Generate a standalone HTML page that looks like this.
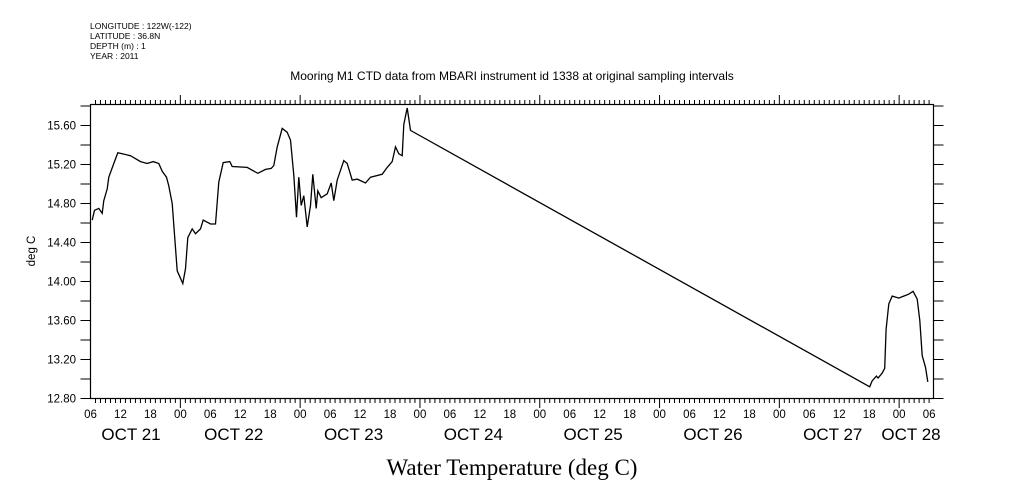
<!DOCTYPE html>
<html><head><meta charset="utf-8"><style>
html,body{margin:0;padding:0;background:#fff;}
svg{display:block;font-family:"Liberation Sans",sans-serif;}
</style></head><body>
<svg id="chart" width="1009" height="504" viewBox="0 0 1009 504">
<g font-size="8.5" fill="#000">
<text x="90" y="29">LONGITUDE : 122W(-122)</text>
<text x="90" y="39">LATITUDE : 36.8N</text>
<text x="90" y="49">DEPTH (m) : 1</text>
<text x="90" y="59">YEAR : 2011</text>
</g>
<text x="512" y="80" font-size="12" text-anchor="middle">Mooring M1 CTD data from MBARI instrument id 1338 at original sampling intervals</text>
<text transform="translate(35,251) rotate(-90)" font-size="11.5" text-anchor="middle">deg C</text>
<text x="512" y="475" font-size="23" text-anchor="middle" font-family="Liberation Serif, serif">Water Temperature (deg C)</text>
<rect x="90.5" y="104.5" width="843" height="294" fill="none" stroke="#000" stroke-width="1.2"/>
<g id="axes"></g>
<path id="line" fill="none" stroke="#000" stroke-width="1.3"/>
</svg>
<script>
const hours=[0.34,0.80,1.66,2.34,2.66,3.35,3.67,4.67,5.47,6.35,8.01,10.02,11.36,12.56,13.68,14.36,15.22,15.69,16.37,17.37,18.49,19.03,19.49,20.37,21.03,22.04,22.58,24.04,25.04,25.70,26.58,27.90,28.39,31.39,33.51,35.06,36.20,36.72,37.40,38.40,39.40,40.06,40.73,41.27,41.73,42.21,42.73,43.41,44.07,44.53,45.21,45.53,46.21,47.42,48.22,48.74,49.42,50.74,51.42,52.42,53.43,55.09,56.09,58.43,59.44,60.44,61.10,61.76,62.44,62.76,63.44,64.10,156.11,156.59,157.45,157.79,158.59,159.11,159.39,159.92,160.60,161.92,162.92,163.92,164.80,165.61,166.13,166.61,167.27,167.73];
const temps=[14.63,14.73,14.75,14.70,14.83,14.95,15.07,15.21,15.32,15.31,15.29,15.23,15.21,15.23,15.21,15.13,15.07,14.98,14.80,14.11,13.98,14.13,14.45,14.54,14.49,14.54,14.63,14.59,14.59,15.02,15.22,15.23,15.18,15.17,15.11,15.15,15.16,15.19,15.38,15.57,15.53,15.45,15.09,14.66,15.07,14.78,14.88,14.56,14.78,15.10,14.75,14.93,14.86,14.90,15.01,14.83,15.04,15.24,15.21,15.04,15.05,15.01,15.07,15.10,15.17,15.23,15.38,15.31,15.29,15.61,15.78,15.55,12.92,12.98,13.03,13.01,13.06,13.11,13.51,13.77,13.85,13.83,13.85,13.87,13.90,13.82,13.60,13.24,13.12,12.97];
const yTicks=[12.8,13.2,13.6,14.0,14.4,14.8,15.2,15.6];
const hourLabels=["06","12","18","00"];
const dayLabels=["OCT 21","OCT 22","OCT 23","OCT 24","OCT 25","OCT 26","OCT 27","OCT 28"];
const X0=90.5,PXH=119.8/24,Y0=398.5,PXV=97.5,VMIN=12.8;
const xs=h=>X0+h*PXH, ys=v=>Y0-(v-VMIN)*PXV;
const ns="http://www.w3.org/2000/svg";
const ax=document.getElementById('axes');
function ln(x1,y1,x2,y2,name){const l=document.createElementNS(ns,'line');l.setAttribute('x1',x1);l.setAttribute('y1',y1);l.setAttribute('x2',x2);l.setAttribute('y2',y2);l.setAttribute('stroke','#000');l.setAttribute('stroke-width','1');


ax.appendChild(l);}
function tx(x,y,s,size,anchor,name){const t=document.createElementNS(ns,'text');t.setAttribute('x',x);t.setAttribute('y',y);t.setAttribute('font-size',size);t.setAttribute('text-anchor',anchor);t.textContent=s;


ax.appendChild(t);}
for(let i=0;i<=15;i++){const v=VMIN+i*0.2;const y=ys(v);if(y<104)continue;ln(X0-10,y,X0,y,'y-tick');ln(933.5,y,943.5,y,'y-tick-right');}
yTicks.forEach(v=>tx(76,ys(v)+4,v.toFixed(2),11.5,'end','y-tick-label'));
const maxH=(933.5-X0)/PXH;
for(let h=1;h<=maxH;h++){const x=xs(h);const major=((h+6)%24===0);
ln(x,398.5,x,major?408:403,'x-tick');ln(x,104.5,x,major?95:100,'x-tick-top');}
for(let k=0;k*6<=maxH;k++){tx(xs(k*6),418,hourLabels[k%4],11.5,'middle','hour-label');}
dayLabels.forEach((d,i)=>{let c=xs(28.7+24*(i-1));if(i===0)c=131;if(i===dayLabels.length-1)c=911;tx(c,440,d,17,'middle','day-label');});
document.getElementById('line').setAttribute('d',hours.map((h,i)=>(i?'L':'M')+xs(h).toFixed(1)+','+ys(temps[i]).toFixed(1)).join(''));
</script>
</body></html>
